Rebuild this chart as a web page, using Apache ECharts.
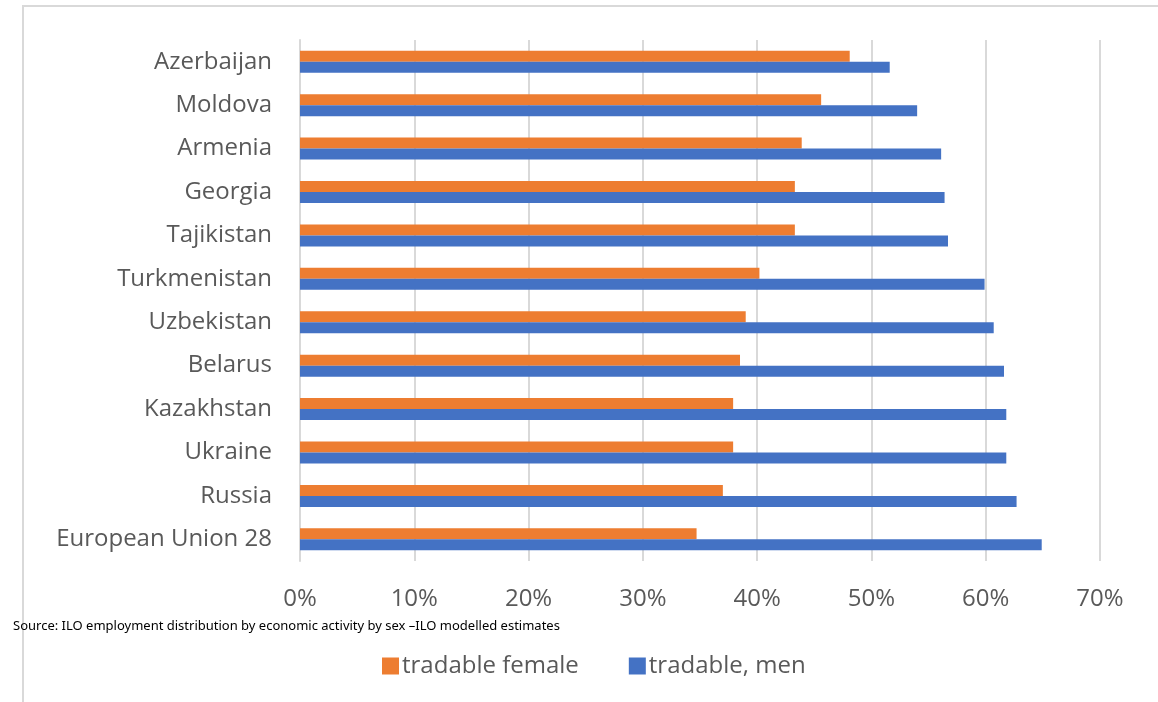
<!DOCTYPE html>
<html>
<head>
<meta charset="utf-8">
<script src="https://cdn.jsdelivr.net/npm/echarts@6/dist/echarts.min.js"></script>
<style>
  html, body { margin: 0; padding: 0; background: #fff; }
  #chart { width: 1158px; height: 702px; }
</style>
</head>
<body>
<div id="chart"></div>
<script>
// categories listed bottom -> top (category axis starts at the bottom)
const countries = [
  'European Union 28', 'Russia', 'Ukraine', 'Kazakhstan', 'Belarus', 'Uzbekistan',
  'Turkmenistan', 'Tajikistan', 'Georgia', 'Armenia', 'Moldova', 'Azerbaijan'
];
const tradableFemale = [34.7, 37.0, 37.9, 37.9, 38.5, 39.0, 40.2, 43.3, 43.3, 43.9, 45.6, 48.1];
const tradableMen    = [64.9, 62.7, 61.8, 61.8, 61.6, 60.7, 59.9, 56.7, 56.4, 56.1, 54.0, 51.6];
const xTicks = [0, 10, 20, 30, 40, 50, 60, 70];

const labelFont = '"Open Sans", Lato, sans-serif';
const textGrey = '#595959';
const gridGrey = '#d9d9d9';

const chart = echarts.init(document.getElementById('chart'));

const option = {
  backgroundColor: '#fff',
  animation: false,
  grid: {
    left: 300,
    right: 58,
    top: 40,
    bottom: 141,
    containLabel: false
  },
  legend: {
    data: ['tradable female', 'tradable, men'],
    left: 377,
    top: 649,
    itemWidth: 17,
    itemHeight: 17,
    itemGap: 50,
    icon: 'rect',
    textStyle: { fontFamily: labelFont, fontSize: 24, color: textGrey, padding: [0, 0, 0, -2] }
  },
  xAxis: {
    type: 'value',
    min: xTicks[0],
    max: xTicks[xTicks.length - 1],
    interval: 10,
    axisLine: { show: false },
    axisTick: { show: false },
    axisLabel: {
      formatter: '{value}%',
      fontFamily: labelFont,
      fontSize: 24,
      color: textGrey,
      margin: 26
    },
    splitLine: { lineStyle: { color: gridGrey, width: 2 } }
  },
  yAxis: {
    type: 'category',
    data: countries,
    axisLine: { show: true, lineStyle: { color: gridGrey, width: 2 } },
    axisTick: { show: false },
    axisLabel: {
      fontFamily: labelFont,
      fontSize: 24,
      color: textGrey,
      margin: 28,
      padding: [4, 0, 0, 0]
    }
  },
  series: [
    {
      name: 'tradable female',
      type: 'bar',
      data: tradableFemale,
      barWidth: 11,
      barGap: '0%',
      itemStyle: { color: '#ED7D31' }
    },
    {
      name: 'tradable, men',
      type: 'bar',
      data: tradableMen,
      barWidth: 11,
      barGap: '0%',
      itemStyle: { color: '#4472C4' }
    }
  ],
  graphic: [
    {
      type: 'rect',
      shape: { x: 23, y: 6, width: 1300, height: 900 },
      style: { fill: 'none', stroke: gridGrey, lineWidth: 2 },
      silent: true
    },
    {
      type: 'text',
      left: 13,
      top: 620,
      style: {
        text: 'Source: ILO employment distribution by economic activity by sex \u2013ILO modelled estimates',
        font: '13px "Liberation Sans Narrow", "Noto Sans", sans-serif',
        fill: '#000'
      }
    }
  ]
};

chart.setOption(option);
</script>
</body>
</html>
